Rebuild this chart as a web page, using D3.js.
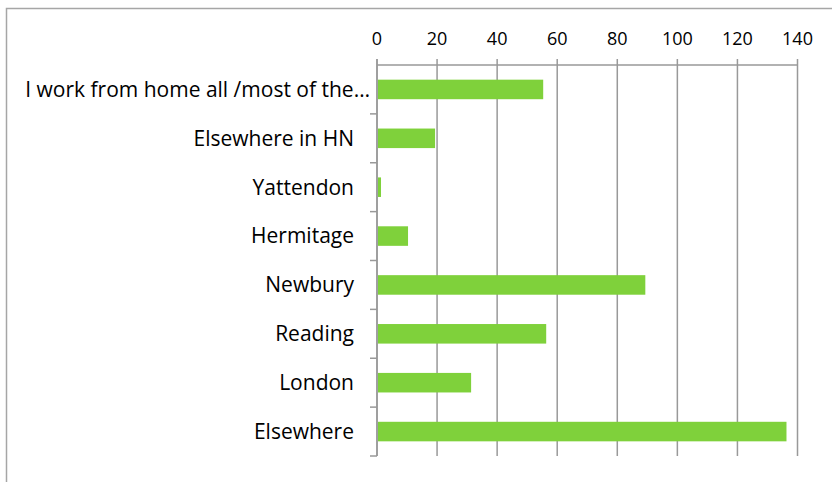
<!DOCTYPE html>
<html>
<head>
<meta charset="utf-8">
<script src="https://cdnjs.cloudflare.com/ajax/libs/d3/7.8.5/d3.min.js"></script>
<style>
  body { margin: 0; background: #fff; }
  text { font-family: "Open Sans", "Noto Sans", sans-serif; fill: #000; }
</style>
</head>
<body>
<div id="chart"></div>
<script>
// categories top to bottom, as shown
var categories = ["I work from home all /most of the\u2026", "Elsewhere in HN", "Yattendon",
  "Hermitage", "Newbury", "Reading", "London", "Elsewhere"];
var counts = [55, 19, 1, 10, 89, 56, 31, 136];
var tickValues = [0, 20, 40, 60, 80, 100, 120, 140];

var width = 832, height = 482;
var svg = d3.select("#chart").append("svg")
    .attr("width", width)
    .attr("height", height);

// chart frame (right / bottom cut off in the original)
svg.append("path")
    .attr("d", "M6.5,482 V8.5 H832")
    .attr("fill", "none")
    .attr("stroke", "#a6a6a6")
    .attr("stroke-width", 1.5);

var plotLeft = 377, plotRight = 797.5, plotTop = 65, plotBottom = 456;

var x = d3.scaleLinear().domain([0, 140]).range([plotLeft, plotRight]);
var y = d3.scaleBand().domain(categories).range([plotTop, plotBottom]).paddingInner(0.6).paddingOuter(0.3);
var band = d3.scaleBand().domain(categories).range([plotTop, plotBottom]);

var grid = "#999";

// vertical gridlines, with ticks poking above the axis line
svg.append("g")
  .selectAll("line")
  .data(tickValues)
  .enter().append("line")
  .attr("x1", d => x(d)).attr("x2", d => x(d))
  .attr("y1", plotTop - 6).attr("y2", plotBottom)
  .attr("stroke", grid).attr("stroke-width", 1.5);

// top axis line
svg.append("line")
  .attr("x1", plotLeft).attr("x2", plotRight)
  .attr("y1", plotTop).attr("y2", plotTop)
  .attr("stroke", grid).attr("stroke-width", 1.5);

// tick labels
svg.append("g")
  .selectAll("text")
  .data(tickValues)
  .enter().append("text")
  .attr("x", d => x(d))
  .attr("y", 45)
  .attr("text-anchor", "middle")
  .style("font-size", "18px")
  .text(d => d);

// category ticks on the left axis
var bounds = categories.map(c => band(c)).concat([plotBottom]);
svg.append("g")
  .selectAll("line")
  .data(bounds.slice(1))
  .enter().append("line")
  .attr("x1", plotLeft - 7).attr("x2", plotLeft)
  .attr("y1", d => d).attr("y2", d => d)
  .attr("stroke", grid).attr("stroke-width", 1.5);

// bars
svg.append("g")
  .selectAll("rect")
  .data(counts)
  .enter().append("rect")
  .attr("x", x(0) + 1)
  .attr("y", (d, i) => y(categories[i]))
  .attr("width", d => x(d) - x(0))
  .attr("height", y.bandwidth())
  .attr("fill", "#7fd13b");

// left axis line drawn above bars
svg.append("line")
  .attr("x1", plotLeft).attr("x2", plotLeft)
  .attr("y1", plotTop - 6).attr("y2", plotBottom)
  .attr("stroke", grid).attr("stroke-width", 1.5);

// category labels
svg.append("g")
  .selectAll("text")
  .data(categories)
  .enter().append("text")
  .attr("x", (d, i) => i === 0 ? 370 : 354)
  .attr("y", d => band(d) + band.bandwidth() / 2)
  .attr("dy", "0.35em")
  .attr("text-anchor", "end")
  .style("font-size", "21px")
  .text(d => d);
</script>
</body>
</html>
